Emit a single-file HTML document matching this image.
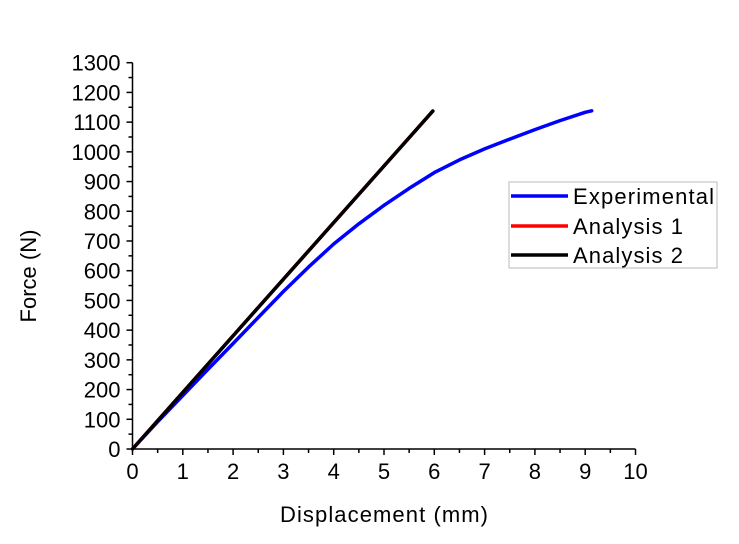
<!DOCTYPE html>
<html><head><meta charset="utf-8"><style>
body{margin:0;background:#fff}
svg text{font-family:"Liberation Sans",Arial,sans-serif;fill:#000}
</style></head><body>
<svg id="chart" width="739" height="539" xmlns="http://www.w3.org/2000/svg">
<g id="axes"></g>
<g id="series"></g>
<text x="384" y="522" font-size="22" text-anchor="middle" textLength="208">Displacement (mm)</text>
<text transform="translate(36,276) rotate(-90)" font-size="22" text-anchor="middle">Force (N)</text>
<g>
<rect x="509" y="182" width="208" height="86" fill="#fff" stroke="#bbb" stroke-width="1"/>
<line x1="511" y1="196" x2="568" y2="196" stroke="#0000ff" stroke-width="3.5"/>
<text x="573" y="204" font-size="22" textLength="141">Experimental</text>
<line x1="511" y1="226" x2="568" y2="226" stroke="#ff0000" stroke-width="3.5"/>
<text x="573" y="234" font-size="22" textLength="110">Analysis 1</text>
<line x1="511" y1="255" x2="568" y2="255" stroke="#000" stroke-width="3.5"/>
<text x="573" y="263" font-size="22" textLength="110">Analysis 2</text>
</g>
</svg>
<script>
const xTicks=[0,1,2,3,4,5,6,7,8,9,10];
const yTicks=[0,100,200,300,400,500,600,700,800,900,1000,1100,1200,1300];
const expX=[0,0.5,1,1.5,2,2.5,3,3.5,4,4.5,5,5.5,6,6.5,7,7.5,8,8.5,9,9.13];
const expY=[0,92,180,268,355,443,530,612,690,758,820,877,930,973,1010,1043,1075,1105,1133,1138];
const a1X=[0,5.97];const a1Y=[0,1137];
const a2X=[0,5.97];const a2Y=[0,1137];
const X0=132.5,XS=50.3,Y0=449,YS=386.3/1300;
const sx=v=>X0+v*XS, sy=v=>Y0-v*YS;
const NS='http://www.w3.org/2000/svg';
const axes=document.getElementById('axes'),series=document.getElementById('series');
function mk(p,tag,at){const e=document.createElementNS(NS,tag);for(const k in at)e.setAttribute(k,at[k]);p.appendChild(e);return e;}
let xa=mk(axes,'line',{x1:X0,y1:Y0,x2:sx(10),y2:Y0,stroke:'#000','stroke-width':1.5});


let ya=mk(axes,'line',{x1:X0,y1:Y0,x2:X0,y2:sy(1300),stroke:'#000','stroke-width':1.5});


xTicks.forEach((v,i)=>{
 mk(axes,'line',{x1:sx(v),y1:Y0,x2:sx(v),y2:Y0+6,stroke:'#000','stroke-width':1.5});
 if(i<xTicks.length-1)mk(axes,'line',{x1:sx(v+0.5),y1:Y0,x2:sx(v+0.5),y2:Y0+4,stroke:'#000','stroke-width':1.5});
 const t=mk(axes,'text',{x:sx(v),y:Y0+30,'font-size':22,'text-anchor':'middle'});t.textContent=v;
 
 
});
yTicks.forEach((v,i)=>{
 mk(axes,'line',{x1:X0-6,y1:sy(v),x2:X0,y2:sy(v),stroke:'#000','stroke-width':1.5});
 if(i<yTicks.length-1)mk(axes,'line',{x1:X0-4,y1:sy(v+50),x2:X0,y2:sy(v+50),stroke:'#000','stroke-width':1.5});
 const t=mk(axes,'text',{x:X0-12,y:sy(v)+8,'font-size':22,'text-anchor':'end'});t.textContent=v;
 
 
});
function line(xs,ys,col,name){
 const d=xs.map((x,i)=>(i?'L':'M')+sx(x).toFixed(1)+','+sy(ys[i]).toFixed(1)).join('');
 const p=mk(series,'path',{d:d,fill:'none',stroke:col,'stroke-width':3.5,'stroke-linejoin':'round','stroke-linecap':'round'});
 
 
}
line(expX,expY,'#0000ff','experimental-line');
line(a1X,a1Y,'#ff0000','analysis-1-line');
line(a2X,a2Y,'#000000','analysis-2-line');
</script>
</body></html>
